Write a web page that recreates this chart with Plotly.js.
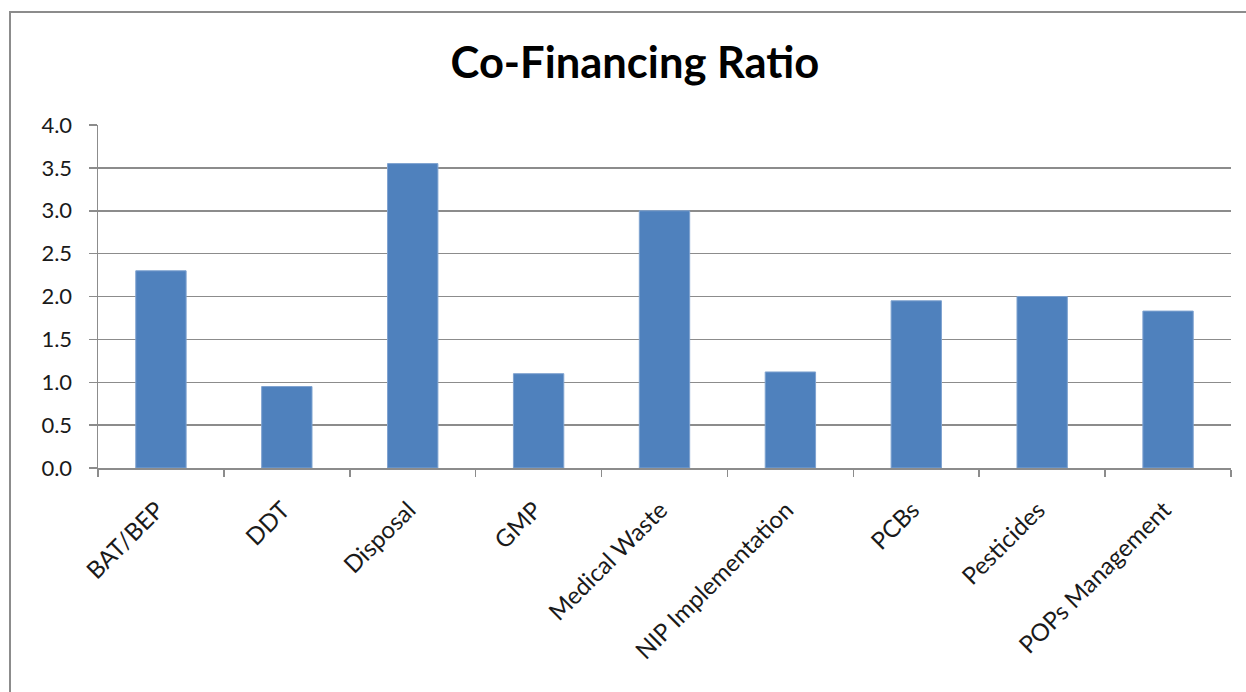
<!DOCTYPE html>
<html>
<head>
<meta charset="utf-8">
<script src="https://cdn.plot.ly/plotly-3.0.1.min.js"></script>
<style>
  html, body { margin: 0; padding: 0; width: 1246px; height: 692px; overflow: hidden; background: #fff; }
  #chart { position: absolute; left: 0; top: 0; width: 1246px; height: 692px; }
  #frame { position: absolute; left: 9px; top: 11px; width: 1400px; height: 900px;
           border: 2px solid #8c8c8c; pointer-events: none; }
</style>
</head>
<body>
<div id="chart"></div>
<div id="frame"></div>
<script>
// Focal area categories and their co-financing ratios
const categories = ["BAT/BEP", "DDT", "Disposal", "GMP", "Medical Waste",
                    "NIP Implementation", "PCBs", "Pesticides", "POPs Management"];
const ratios = [2.3, 0.95, 3.55, 1.1, 3.0, 1.12, 1.95, 2.0, 1.83];
const yTickValues = [0, 0.5, 1, 1.5, 2, 2.5, 3, 3.5, 4];
const yTickLabels = ["0.0", "0.5", "1.0", "1.5", "2.0", "2.5", "3.0", "3.5", "4.0"];
const yRange = [0, 4];

const bars = {
  type: "bar",
  x: categories,
  y: ratios,
  marker: { color: "#4F81BD", line: { color: "#7FA3D0", width: 1 } },
  hoverinfo: "x+y"
};

// invisible companion on the overlay axis so that axis (and its tick marks) is rendered
const tickCarrier = {
  type: "scatter",
  mode: "markers",
  x: categories,
  y: ratios,
  yaxis: "y2",
  marker: { opacity: 0 },
  hoverinfo: "skip",
  showlegend: false
};

const axisGrey = "#8c8c8c";

const layout = {
  width: 1246,
  height: 692,
  margin: { l: 98, r: 15, t: 125, b: 224 },
  paper_bgcolor: "#ffffff",
  plot_bgcolor: "#ffffff",
  font: { family: "Lato, 'Open Sans', sans-serif", color: "#1a1a1a" },
  showlegend: false,
  bargap: 0.6,
  title: {
    text: "<b>Co-Financing Ratio</b>",
    font: { family: "Lato, 'Open Sans', sans-serif", size: 43.5, color: "#000000" },
    xref: "container", x: 0.5096, xanchor: "center",
    yref: "container", y: 0.91, yanchor: "middle"
  },
  xaxis: {
    type: "category",
    tickson: "boundaries",
    ticks: "outside",
    ticklen: 7,
    tickcolor: axisGrey,
    tickwidth: 1.5,
    tickangle: -45,
    ticklabelstandoff: 17,
    ticklabelshift: -4,
    tickfont: { size: 24, color: "#1a1a1a" },
    showline: true,
    linecolor: axisGrey,
    linewidth: 1.5,
    showgrid: false,
    zeroline: false
  },
  // main value axis: labels and gridlines; its long transparent ticks keep the labels clear of the axis
  yaxis: {
    range: yRange,
    tickmode: "array",
    tickvals: yTickValues,
    ticktext: yTickLabels,
    ticks: "outside",
    ticklen: 20,
    tickcolor: "rgba(0,0,0,0)",
    tickfont: { size: 22, color: "#1a1a1a" },
    showline: true,
    linecolor: axisGrey,
    linewidth: 1.5,
    showgrid: true,
    gridcolor: axisGrey,
    gridwidth: 1.5,
    zeroline: false
  },
  // overlay axis that only carries the short visible tick marks
  yaxis2: {
    overlaying: "y",
    side: "left",
    range: yRange,
    tickmode: "array",
    tickvals: yTickValues,
    ticks: "outside",
    ticklen: 8,
    tickcolor: axisGrey,
    tickwidth: 1.5,
    showticklabels: false,
    showline: false,
    showgrid: false,
    zeroline: false
  }
};

Plotly.newPlot("chart", [bars, tickCarrier], layout, { displayModeBar: false, staticPlot: true });
</script>
</body>
</html>
